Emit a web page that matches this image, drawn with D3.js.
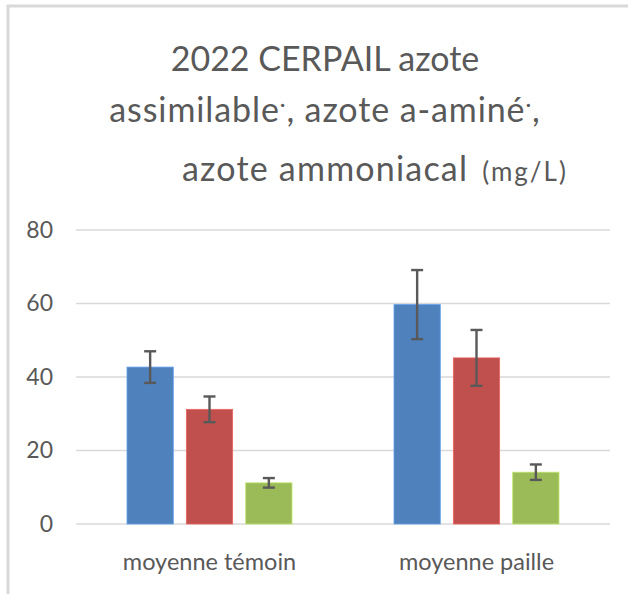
<!DOCTYPE html>
<html>
<head>
<meta charset="utf-8">
<script src="https://cdn.jsdelivr.net/npm/d3@7"></script>
<style>
  body { margin: 0; background: #fff; }
  text { font-family: Lato, "Open Sans", sans-serif; }
</style>
</head>
<body>
<svg id="chart" width="628" height="594"></svg>
<script>
// data
var categories = ["moyenne témoin", "moyenne paille"];
var series = ["azote assimilable", "azote a-aminé", "azote ammoniacal"];
var colors = ["#4f81bd", "#c0504d", "#9bbb59"];
var values = [
    [42.7, 31.2, 11.2],
    [59.7, 45.2, 14.1]
];
var errors = [
    [4.3, 3.5, 1.3],
    [9.4, 7.6, 2.1]
];
var yTicks = [0, 20, 40, 60, 80];

var svg = d3.select("#chart");

// frame (left and top border of the chart area)
svg.append("path")
    .attr("d", "M8,594V6H628")
    .attr("fill", "none")
    .attr("stroke", "#d9d9d9")
    .attr("stroke-width", 3);

var margin = {left: 76, right: 18, top: 230, bottom: 70};
var width = 628 - margin.left - margin.right;
var height = 594 - margin.top - margin.bottom;

var g = svg.append("g")
    .attr("transform", "translate(" + margin.left + "," + margin.top + ")");

var y = d3.scaleLinear().domain([0, 80]).range([height, 0]);

var x0 = d3.scaleBand()
    .domain(categories)
    .range([0, width])
    .paddingInner(0.382)
    .paddingOuter(0.191);

var x1 = d3.scaleBand()
    .domain(series)
    .range([0, x0.bandwidth()])
    .paddingInner(0.22);

// gridlines
g.selectAll(".grid")
    .data(yTicks)
    .enter().append("line")
    .attr("x1", 0)
    .attr("x2", width)
    .attr("y1", function (d) { return y(d); })
    .attr("y2", function (d) { return y(d); })
    .attr("stroke", "#d9d9d9")
    .attr("stroke-width", 1.6);

// y tick labels
var yAxis = g.append("g")
    .call(d3.axisLeft(y).tickValues(yTicks).tickSize(0).tickPadding(23))
    .attr("font-size", 23)
    .attr("font-family", "Lato, sans-serif");
yAxis.select(".domain").remove();
yAxis.selectAll("text")
    .attr("fill", "#595959");

// x category labels
var xAxis = g.append("g")
    .attr("transform", "translate(0," + height + ")")
    .call(d3.axisBottom(x0).tickSize(0).tickPadding(29))
    .attr("font-size", 23.5)
    .attr("font-family", "Lato, sans-serif");
xAxis.select(".domain").remove();
xAxis.selectAll("text")
    .attr("fill", "#595959");

// bars
var groups = g.selectAll(".cat")
    .data(categories)
    .enter().append("g")
    .attr("transform", function (d) { return "translate(" + x0(d) + ",0)"; });

groups.each(function (cat, ci) {
    var grp = d3.select(this);
    series.forEach(function (s, si) {
        var v = values[ci][si];
        var e = errors[ci][si];
        var bx = x1(s);
        var bw = x1.bandwidth();
        grp.append("rect")
            .attr("x", bx)
            .attr("y", y(v))
            .attr("width", bw)
            .attr("height", y(0) - y(v))
            .attr("fill", colors[si])
            .attr("stroke", d3.color(colors[si]).brighter(0.6))
            .attr("stroke-width", 0.8);

        var cx = bx + bw / 2;
        var eb = grp.append("g")
            .attr("stroke", "#595959")
            .attr("stroke-width", 2.4);
        eb.append("line")
            .attr("x1", cx).attr("x2", cx)
            .attr("y1", y(v + e)).attr("y2", y(v - e));
        eb.append("line")
            .attr("x1", cx - 6).attr("x2", cx + 6)
            .attr("y1", y(v + e)).attr("y2", y(v + e));
        eb.append("line")
            .attr("x1", cx - 6).attr("x2", cx + 6)
            .attr("y1", y(v - e)).attr("y2", y(v - e));
    });
});

// title
var title = svg.append("g")
    .attr("fill", "#595959")
    .style("font-size", "34px");

title.append("text")
    .attr("x", 325).attr("y", 71)
    .attr("text-anchor", "middle")
    .text("2022 CERPAIL azote");

var t2 = title.append("text")
    .attr("x", 325).attr("y", 122)
    .attr("text-anchor", "middle")
    .style("letter-spacing", "0.9px");
t2.append("tspan").text("assimilable");
t2.append("tspan").attr("dy", -10).style("font-size", "22px").text("·");
t2.append("tspan").attr("dy", 10).text(", azote a-aminé");
t2.append("tspan").attr("dy", -10).style("font-size", "22px").text("·");
t2.append("tspan").attr("dy", 10).text(",");

var t3 = title.append("text")
    .attr("x", 182).attr("y", 181);
t3.append("tspan").style("letter-spacing", "1.2px").text("azote ammoniacal");
t3.append("tspan")
    .attr("dx", 14)
    .style("font-size", "26px")
    .style("letter-spacing", "2px")
    .text("(mg/L)");
</script>
</body>
</html>
